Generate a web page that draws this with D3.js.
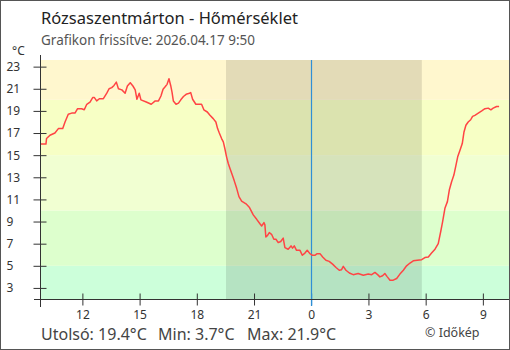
<!DOCTYPE html>
<html>
<head>
<meta charset="utf-8">
<script src="https://cdn.jsdelivr.net/npm/d3@7"></script>
<style>
  html, body { margin: 0; padding: 0; background: #fff; }
  svg { display: block; }
  text { font-family: "Noto Sans", sans-serif; }
</style>
</head>
<body>
<svg id="chart" width="510" height="350"></svg>
<script>
// ---- data (hours since 00:00 on 2026-04-16; >24 = next day) ----
const hours = [9.83,10.09,10.12,10.30,10.56,10.74,10.97,11.09,11.26,11.44,11.61,11.75,11.96,12.10,12.23,12.40,12.54,12.63,12.75,12.89,13.10,13.28,13.40,13.54,13.66,13.78,13.89,14.07,14.24,14.36,14.51,14.65,14.77,14.86,14.98,15.07,15.35,15.61,15.82,15.99,16.12,16.23,16.35,16.44,16.54,16.63,16.70,16.77,16.91,17.04,17.16,17.30,17.44,17.61,17.68,17.78,17.95,18.25,18.37,18.55,18.69,18.86,19.00,19.09,19.18,19.30,19.39,19.47,19.56,19.65,19.74,19.86,19.96,20.09,20.21,20.35,20.58,20.75,20.96,21.14,21.31,21.40,21.52,21.57,21.62,21.71,21.80,21.92,22.04,22.15,22.27,22.40,22.53,22.62,22.79,22.94,23.02,23.11,23.23,23.41,23.53,23.67,23.79,23.93,24.07,24.19,24.31,24.46,24.60,24.77,24.94,25.12,25.30,25.47,25.59,25.68,25.82,26.00,26.20,26.46,26.73,26.99,27.17,27.34,27.48,27.60,27.74,27.86,27.99,28.13,28.30,28.48,28.65,28.83,29.00,29.18,29.35,29.56,29.79,29.96,30.14,30.31,30.49,30.66,30.79,30.89,31.01,31.14,31.24,31.36,31.48,31.59,31.68,31.80,31.92,32.01,32.11,32.23,32.36,32.46,32.58,32.76,32.94,33.11,33.28,33.42,33.54,33.72,33.85];
const temps = [16.0,16.0,16.5,16.8,17.0,17.4,17.4,18.0,18.7,18.8,18.8,19.2,19.2,19.1,19.6,19.8,20.2,20.2,19.9,20.1,20.1,20.6,21.0,21.1,21.3,21.6,21.0,20.9,20.6,21.25,21.55,21.25,20.9,20.05,20.6,20.0,19.8,19.6,19.9,19.9,20.35,20.95,21.2,21.4,21.9,21.3,20.7,19.9,19.6,19.7,20.0,20.3,20.5,20.6,20.65,20.05,19.6,19.6,19.1,18.9,18.6,18.3,18.0,17.4,17.0,16.5,16.2,15.6,14.85,14.25,13.8,13.2,12.7,12.0,11.25,10.85,10.6,10.3,9.6,9.2,8.8,8.6,8.9,8.7,7.6,7.75,8.0,7.85,7.4,7.4,7.1,7.2,7.5,6.65,6.5,6.8,6.6,6.8,6.4,6.4,5.95,6.15,6.4,6.1,5.95,5.95,6.1,6.1,5.8,5.5,5.4,5.15,4.85,4.6,4.65,4.95,4.6,4.35,4.2,4.3,4.15,4.25,4.2,4.4,4.2,4.0,4.1,4.3,4.0,3.7,3.7,3.85,4.25,4.6,5.0,5.25,5.45,5.5,5.55,5.75,5.8,6.15,6.5,7.0,8.1,9.0,10.2,10.8,11.85,12.6,13.2,14.1,14.85,15.45,16.05,17.1,17.7,18.0,18.2,18.5,18.6,18.8,19.0,19.2,19.25,19.1,19.25,19.4,19.4];

const xDomain = [9.83, 34.37];
const yDomain = [2, 23.6];
const xTickValues = [12, 15, 18, 21, 24, 27, 30, 33];
const xTickLabels = ["12", "15", "18", "21", "0", "3", "6", "9"];
const yTickValues = [3, 5, 7, 9, 11, 13, 15, 17, 19, 21, 23];
const bandBreaks = [2, 5, 10, 15, 20, 23.6];
const night = [19.53, 29.80];
const midnight = 24;

const title = "Rózsaszentmárton - Hőmérséklet";
const subtitle = "Grafikon frissítve: 2026.04.17 9:50";
const statLabels = ["Utolsó: 19.4°C", "Min: 3.7°C", "Max: 21.9°C"];
const credit = "© Időkép";
const unit = "°C";

// ---- styles ----
const bandColors = ["#ccffda", "#ddffcd", "#f1ffd2", "#f7ffc5", "#fff7ce"];
const lineColor = "#ff4444";
const midColor = "#2f8fd6";

const svg = d3.select("#chart");
const W = 510, H = 350;
const L = 41, R = 509, T = 60, B = 299;

const x = d3.scaleLinear().domain(xDomain).range([L, R]);
const y = d3.scaleLinear().domain(yDomain).range([B, T]);

// bands
const bands = d3.range(bandBreaks.length - 1).map(i => ({lo: bandBreaks[i], hi: bandBreaks[i + 1], c: bandColors[i]}));
svg.append("g").selectAll("rect").data(bands).join("rect")
  .attr("x", L).attr("width", R - L)
  .attr("y", d => y(d.hi)).attr("height", d => y(d.lo) - y(d.hi))
  .attr("fill", d => d.c);

// night overlay
svg.append("rect")
  .attr("x", x(night[0])).attr("width", x(night[1]) - x(night[0]))
  .attr("y", T).attr("height", B - T)
  .attr("fill", "#000").attr("fill-opacity", 0.11);

// midnight line
const mx = Math.round(x(midnight)) + 0.5;
svg.append("line").attr("x1", mx).attr("x2", mx).attr("y1", T).attr("y2", B + 7)
  .attr("stroke", midColor).attr("stroke-width", 1.2);

// temperature line
const pts = hours.map((h, i) => [h, temps[i]]);
svg.append("path").datum(pts)
  .attr("d", d3.line().x(d => x(d[0])).y(d => y(d[1])))
  .attr("fill", "none").attr("stroke", lineColor).attr("stroke-width", 1.5)
  .attr("stroke-linejoin", "round");

// y axis
const yAxis = svg.append("g").attr("transform", `translate(${L - 0.5},0)`)
  .call(d3.axisLeft(y).tickValues(yTickValues).tickSize(6));
yAxis.select(".domain").remove();
yAxis.selectAll(".tick line").attr("x1", -7).attr("x2", 6).attr("stroke", "#333");
yAxis.selectAll(".tick text").attr("text-anchor", "start").attr("x", -34)
  .attr("font-size", 12).attr("fill", "#333").attr("font-family", "Noto Sans, sans-serif");
svg.append("line").attr("x1", L - 0.5).attr("x2", L - 0.5).attr("y1", 55).attr("y2", 307)
  .attr("stroke", "#333");

// x axis
const xAxis = svg.append("g").attr("transform", `translate(0,${B + 0.5})`)
  .call(d3.axisBottom(x).tickValues(xTickValues).tickFormat((d, i) => xTickLabels[i]).tickSize(6));
xAxis.select(".domain").remove();
xAxis.selectAll(".tick line").attr("y1", -6).attr("y2", 6)
  .attr("stroke", d => d === midnight ? midColor : "#333");
xAxis.selectAll(".tick text").attr("y", 11)
  .attr("font-size", 12).attr("fill", "#333").attr("font-family", "Noto Sans, sans-serif");
svg.append("line").attr("x1", 34).attr("x2", R).attr("y1", B + 0.5).attr("y2", B + 0.5)
  .attr("stroke", "#333");

// texts
svg.append("text").attr("x", 41).attr("y", 24).attr("font-size", 16.5).attr("fill", "#222").text(title);
svg.append("text").attr("x", 41).attr("y", 45).attr("font-size", 13.5).attr("fill", "#555").text(subtitle);
svg.append("text").attr("x", 12).attr("y", 55).attr("font-size", 12).attr("fill", "#333").text(unit);

const statX = [41, 158, 247];
svg.append("g").selectAll("text").data(statLabels).join("text")
  .attr("x", (d, i) => statX[i]).attr("y", 340).attr("font-size", 16).attr("fill", "#444").text(d => d);
svg.append("text").attr("x", 425).attr("y", 337).attr("font-size", 12.5).attr("fill", "#444").text(credit);

// frame
svg.append("rect").attr("x", 0.5).attr("y", 0.5).attr("width", W - 1).attr("height", H - 1)
  .attr("fill", "none").attr("stroke", "#555");
</script>
</body>
</html>
